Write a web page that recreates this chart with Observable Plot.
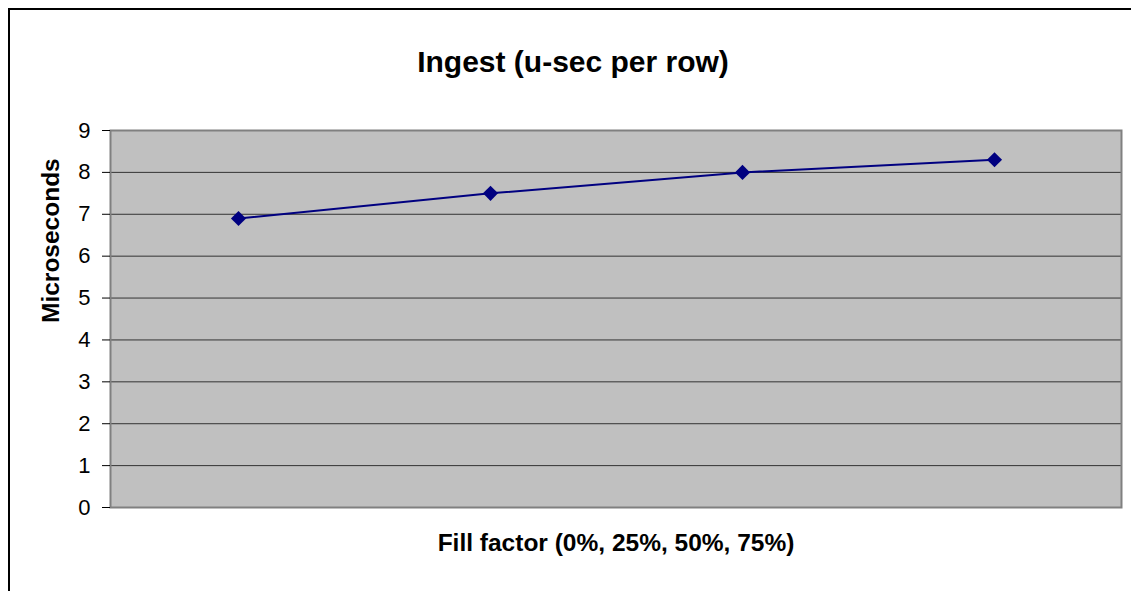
<!DOCTYPE html>
<html>
<head>
<meta charset="utf-8">
<script src="https://cdn.jsdelivr.net/npm/d3@7"></script>
<script src="https://cdn.jsdelivr.net/npm/@observablehq/plot@0.6"></script>
<style>
  html, body { margin: 0; padding: 0; background: #fff; }
  #chart { position: relative; width: 1131px; height: 591px; overflow: hidden; }
  #chart .border {
    position: absolute; left: 8px; top: 8px; width: 1140px; height: 600px;
    border-left: 2px solid #000; border-top: 2px solid #000; box-sizing: border-box;
    pointer-events: none;
  }
  #chart svg { display: block; }
</style>
</head>
<body>
<div id="chart"><div class="border"></div></div>
<script>
// Ingest cost per row at each fill factor
const fillFactors = ["0%", "25%", "50%", "75%"];
const microseconds = [6.9, 7.5, 8.0, 8.3];
const yTicks = [0, 1, 2, 3, 4, 5, 6, 7, 8, 9];

const titleText = "Ingest (u-sec per row)";
const xTitle = "Fill factor (0%, 25%, 50%, 75%)";
const yTitle = "Microseconds";

const rows = fillFactors.map((f, i) => ({fill: f, value: microseconds[i]}));

const chart = Plot.plot({
  width: 1131,
  height: 591,
  marginLeft: 110,
  marginRight: 10,
  marginTop: 130,
  marginBottom: 84,
  style: {fontFamily: "'Liberation Sans', Arial, sans-serif", fontSize: "22px", color: "#000", background: "transparent"},
  // categories sit at the centre of equal-width slots across the plot area
  x: {type: "point", domain: fillFactors, padding: 0.5, axis: null},
  y: {domain: [0, 9]},
  marks: [
    Plot.frame({fill: "#c0c0c0", stroke: null}),
    Plot.ruleY(yTicks.filter(d => d > 0 && d < 9), {stroke: "#333", strokeWidth: 1}),
    Plot.frame({stroke: "#808080", strokeWidth: 2}),
    Plot.axisY(yTicks, {tickSize: 8, tickPadding: 12, label: null, fontSize: 22, stroke: "#000"}),
    Plot.ruleX([0], {frameAnchor: "left", stroke: "#000", strokeWidth: 1.5, y1: 0, y2: 9}),
    Plot.line(rows, {x: "fill", y: "value", stroke: "#000080", strokeWidth: 2}),
    Plot.dot(rows, {x: "fill", y: "value", symbol: "diamond2", r: 6.8, fill: "#000080", stroke: null}),
    Plot.text([titleText], {frameAnchor: "top", dx: -43, dy: -80, fontSize: 30, fontWeight: "bold", text: d => d}),
    Plot.text([xTitle], {frameAnchor: "bottom", dy: 43.5, fontSize: 24.5, fontWeight: "bold", text: d => d}),
    Plot.text([yTitle], {frameAnchor: "left", dx: -59, dy: 4, rotate: -90, fontSize: 24.5, fontWeight: "bold", text: d => d})
  ]
});

document.getElementById("chart").prepend(chart);
</script>
</body>
</html>
